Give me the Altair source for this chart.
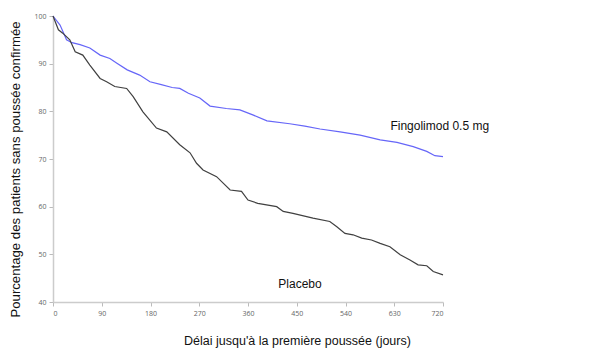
import altair as alt
import pandas as pd

# Fingolimod 0.5 mg (days, % free of confirmed relapse)
fingo_days = [0, 13, 25, 35, 50, 68, 87, 105, 118, 137, 160, 179, 200, 220, 234, 250, 271, 290, 320, 345, 370, 395, 437, 465, 493, 530, 567, 604, 635, 665, 690, 705, 720]
fingo_vals = [100, 98.1, 95.0, 94.4, 94.0, 93.3, 91.8, 91.1, 90.1, 88.7, 87.6, 86.2, 85.6, 85.0, 84.8, 83.8, 82.8, 81.1, 80.6, 80.3, 79.2, 78.0, 77.4, 76.9, 76.3, 75.7, 75.0, 74.0, 73.5, 72.6, 71.6, 70.7, 70.5]

# Placebo
plac_days = [0, 10, 18, 31, 41, 55, 68, 87, 99, 114, 136, 148, 166, 191, 210, 234, 253, 265, 277, 302, 327, 348, 360, 378, 413, 425, 443, 480, 511, 524, 539, 554, 570, 588, 604, 622, 641, 659, 674, 690, 702, 720]
plac_vals = [100, 97.1, 96.4, 95.0, 92.5, 91.8, 89.7, 86.9, 86.2, 85.2, 84.8, 83.1, 79.9, 76.5, 75.7, 73.0, 71.3, 69.1, 67.7, 66.3, 63.5, 63.2, 61.4, 60.7, 60.0, 59.0, 58.6, 57.6, 56.9, 55.8, 54.4, 54.1, 53.4, 53.0, 52.3, 51.6, 49.9, 48.8, 47.8, 47.6, 46.4, 45.7]

series_names = ["Fingolimod 0.5 mg", "Placebo"]
series_colors = ["#6666f8", "#404040"]

x_ticks = [0, 90, 180, 270, 360, 450, 540, 630, 720]
y_ticks = [40, 50, 60, 70, 80, 90, 100]

label_text = ["Fingolimod 0.5 mg", "Placebo"]
label_day = [714, 456]
label_val = [76.9, 43.8]

rows = [{"day": d, "pct": v, "series": series_names[0]} for d, v in zip(fingo_days, fingo_vals)]
rows += [{"day": d, "pct": v, "series": series_names[1]} for d, v in zip(plac_days, plac_vals)]
df = pd.DataFrame(rows)
labels = pd.DataFrame({"text": label_text, "day": label_day, "pct": label_val})

x_scale = alt.Scale(domain=[0, 720], nice=False)
y_scale = alt.Scale(domain=[40, 100], nice=False, zero=False)

lines = alt.Chart(df).mark_line(strokeWidth=1.2).encode(
    x=alt.X("day:Q", scale=x_scale,
            axis=alt.Axis(values=x_ticks, title="Délai jusqu'à la première poussée (jours)",
                          titlePadding=18, titleX=244, titleFontSize=12.5)),
    y=alt.Y("pct:Q", scale=y_scale,
            axis=alt.Axis(values=y_ticks, title="Pourcentage des patients sans poussée confirmée",
                          titlePadding=11, titleY=153, titleFontSize=13.2)),
    color=alt.Color("series:N", scale=alt.Scale(domain=series_names, range=series_colors), legend=None),
)

text = alt.Chart(labels).mark_text(align="center", baseline="middle", font="Liberation Sans",
                                   fontSize=12, color="#111111").encode(
    x=alt.X("day:Q", scale=x_scale),
    y=alt.Y("pct:Q", scale=y_scale),
    text="text:N",
)

chart = alt.layer(lines, text).properties(
    width=390, height=286,
    autosize=alt.AutoSizeParams(type="none"),
    padding={"left": 45, "top": 8, "right": 150, "bottom": 50},
).configure_view(stroke=None).configure_axis(
    grid=False,
    domainColor="#cccccc",
    domainWidth=1.5,
    tickColor="#bbbbbb",
    tickSize=4,
    labelFont="Open Sans",
    labelFontSize=7,
    labelColor="#666666",
    labelPadding=3,
    titleFont="Liberation Sans",
    titleFontWeight="normal",
    titleColor="#111111",
)

chart.save("out.html", embed_options={"renderer": "svg", "actions": False})
